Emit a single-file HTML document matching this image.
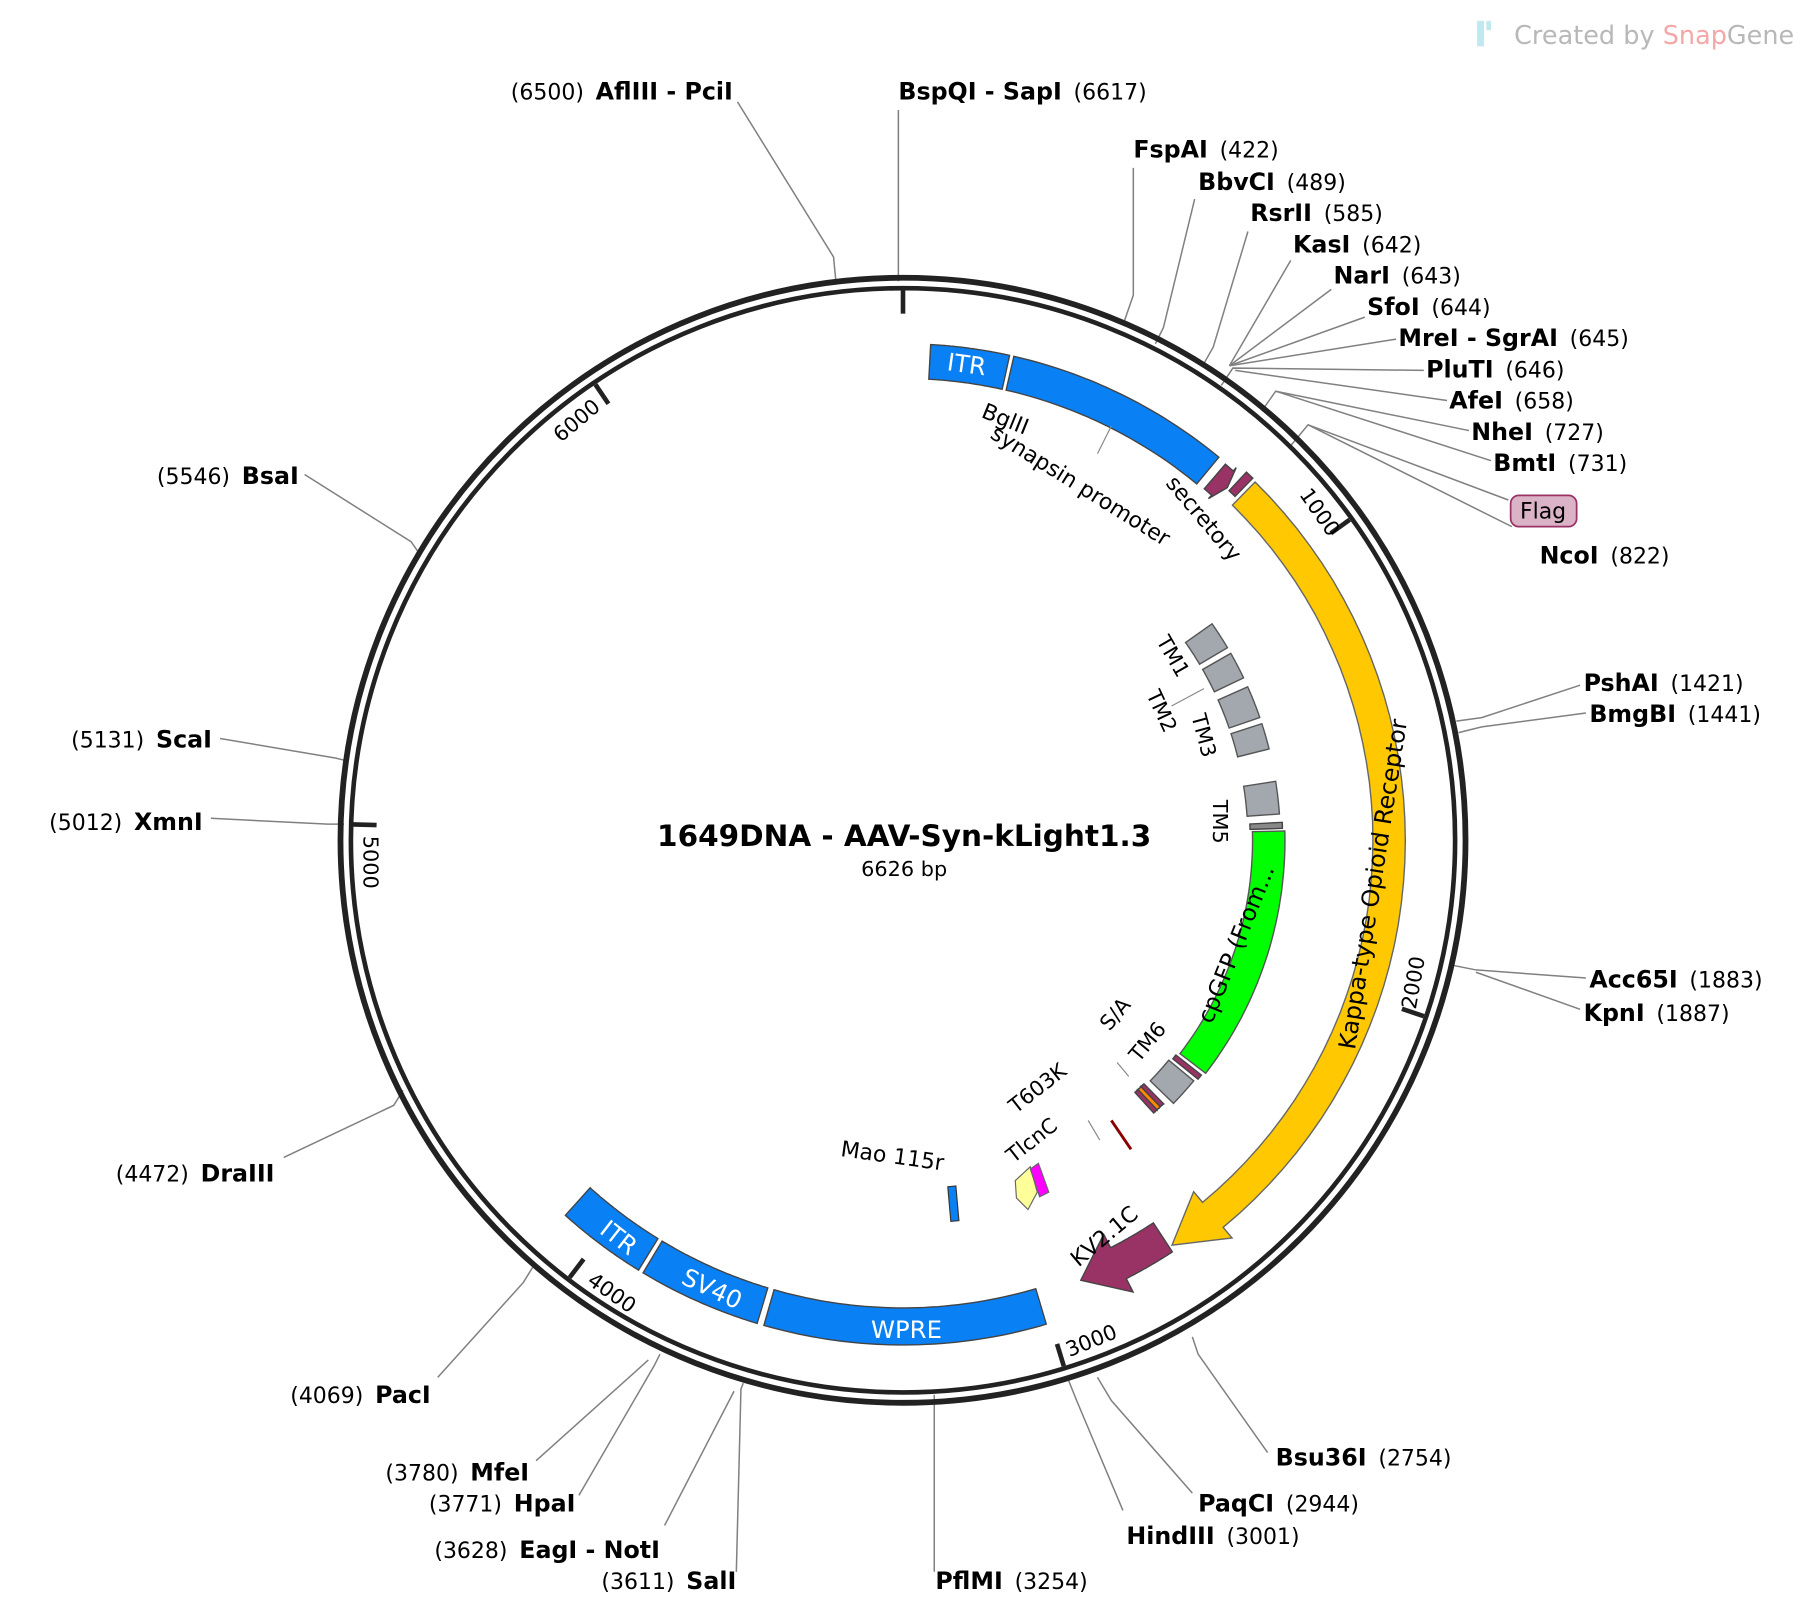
<!DOCTYPE html>
<html><head><meta charset="utf-8">
<style>
html,body{margin:0;padding:0;background:#fff;}
svg{display:block;}
text{font-family:"DejaVu Sans","Liberation Sans",sans-serif;}
.b{font-weight:bold;font-size:20.5px;}
.n{font-size:19px;}
</style></head>
<body>
<svg id="s" width="1806" height="1610" viewBox="0 0 1560 1391" xmlns="http://www.w3.org/2000/svg">
<rect width="1560" height="1391" fill="#fff"/>
<g id="lines" stroke="#808080" stroke-width="1.3" fill="none"></g>
<circle cx="780" cy="726" r="486" fill="none" stroke="#222" stroke-width="5"/>
<circle cx="780" cy="726" r="477" fill="none" stroke="#222" stroke-width="4"/>
<g id="feat"></g>
<g id="lab"></g>
<rect x="1276" y="18" width="6" height="22" fill="#bfe9ef"/>
<rect x="1284" y="18" width="4" height="8" fill="#bfe9ef"/>
<text x="1308" y="38" font-size="22" fill="#b8b8b8" textLength="242">Created by <tspan fill="#f4a7a7">Snap</tspan>Gene</text>
<text x="781" y="731" text-anchor="middle" font-weight="bold" font-size="25.5">1649DNA - AAV-Syn-kLight1.3</text>
<text x="781" y="757" text-anchor="middle" font-size="18">6626 bp</text>
</svg>
<script>
var NS="http://www.w3.org/2000/svg",cx=780,cy=726;
function P(r,a){a=a*Math.PI/180;return [cx+r*Math.sin(a),cy-r*Math.cos(a)];}
function el(p,t,at,txt){var e=document.createElementNS(NS,t);for(var k in at)e.setAttribute(k,at[k]);if(txt!==undefined)e.innerHTML=txt;document.getElementById(p).appendChild(e);return e;}
function band(a1,a2,r,w,fill,head,hw,stroke){
 var pts=[],n=40,ae=head?a2-head:a2;
 for(var i=0;i<=n;i++){pts.push(P(r+w/2,a1+(ae-a1)*i/n));}
 if(head){pts.push(P(r+hw/2,ae));pts.push(P(r,a2));pts.push(P(r-hw/2,ae));}
 for(var i=n;i>=0;i--){pts.push(P(r-w/2,a1+(ae-a1)*i/n));}
 el("feat","polygon",{points:pts.map(function(p){return p[0].toFixed(1)+","+p[1].toFixed(1)}).join(" "),fill:fill,stroke:stroke||"#444","stroke-width":1.2});
}
var BL="#0a80f5";
band(3.2,12.4,414,30,BL);
band(12.9,39.5,414,30,BL);
band(40.6,42.6,414,28,"#993366",0.8,36);
band(43,44,424,22,"#993366");
band(44.5,146.4,420,28,"#ffc800",6,52,"#666");
band(146.8,158,410,30,"#993366",5,56);
band(163.5,196,420,32,BL);
band(196.8,211,420,32,BL);
band(211.6,222,420,32,BL);
[[55,59.3],[60.3,64.5],[66,71],[72,76],[81,86]].forEach(function(a){band(a[0],a[1],312,28,"#a3a8ae","", "", "#555");});
band(87.3,88.2,314,28,"#888");
band(88.6,127.6,316,28,"#00ff00","", "", "#555");
band(128.2,129,314,28,"#993366");
band(129.6,134.2,312,28,"#a3a8ae","","","#555");
band(135.3,136,308,24,"#993366");band(136,136.7,308,24,"#ff8800");band(136.7,137.4,308,24,"#993366");
[0,1000,2000,3000,4000,5000,6000].forEach(function(p){var a=p/6626*360,q1=P(475,a),q2=P(455,a);
 el("feat","line",{x1:q1[0],y1:q1[1],x2:q2[0],y2:q2[1],stroke:"#222","stroke-width":4});});
function T(x,y,s,rot,txt,fill,anch){el("lab","text",{x:x,y:y,"font-size":s,fill:fill||"#000","text-anchor":anch||"middle",transform:"rotate("+rot+" "+x+" "+y+")"},txt);}
T(1135,446,18,55,"1000");
T(1227,850,18,-80,"2000");
T(945,1164,18,-22,"3000");
T(525,1122,18,35,"4000");
T(314,745,18,90,"5000");
T(502,368,18,-40,"6000");
el("feat","line",{x1:960,y1:968,x2:977,y2:993,stroke:"#8b0000","stroke-width":2.5});
el("feat","polygon",{points:"877,1020 890,1008 896,1030 888,1045 878,1035",fill:"#ffff99",stroke:"#666"});
el("feat","polygon",{points:"890,1010 897,1005 906,1030 898,1034",fill:"#ff00ff",stroke:"#666"});
el("feat","rect",{x:820,y:1025,width:7,height:30,fill:BL,stroke:"#333",transform:"rotate(-5 823 1040)"});
el("feat","line",{x1:950,y1:985,x2:940,y2:968,stroke:"#888"});
T(834,322,21,8,"ITR","#fff");
T(530,1075,21,38,"ITR","#fff");
T(612,1120,21,25,"SV40","#fff");
T(783,1156,21,0,"WPRE","#fff");
T(1193,765,20.5,-81,"Kappa-type Opioid Receptor");
T(1074,818,20,-68,"cpGFP (From...");
T(866,368,19,22,"BglII");
T(930,425,19,32,"synapsin promoter");
T(1035,452,19,50,"secretory");
T(1008,570,18,60,"TM1");
T(998,617,18,65,"TM2");
T(1034,637,18,75,"TM3");
T(1048,710,18,90,"TM5");
T(968,880,18,-50,"S/A");
T(996,904,18,-50,"TM6");
T(900,945,18,-38,"T603K");
T(895,990,18,-38,"TlcnC");
T(770,1005,19,8,"Mao 115r");
T(958,1073,19,-40,"KV2.1C");
el("feat","line",{x1:1012,y1:610,x2:1040,y2:595,stroke:"#888"});
el("feat","line",{x1:948,y1:392,x2:960,y2:368,stroke:"#888"});
el("feat","line",{x1:975,y1:930,x2:965,y2:918,stroke:"#888"});
var S=[
[633,86,"end","AflIII - PciI","(6500)",1,"637,88 720,222 722,243"],
[776,86,"start","BspQI - SapI","(6617)",0,"776,95 776,243"],
[979,136,"start","FspAI","(422)",0,"979,145 979,255 970,281"],
[1035,164,"start","BbvCI","(489)",0,"1032,172 1005,283 998,297"],
[1080,191,"start","RsrII","(585)",0,"1078,200 1048,300 1040,314"],
[1117,218,"start","KasI","(642)",0,"1115,225 1062,316"],
[1152,245,"start","NarI","(643)",0,"1150,250 1062,316"],
[1181,272,"start","SfoI","(644)",0,"1179,274 1062,316"],
[1208,299,"start","MreI - SgrAI","(645)",0,"1206,293 1062,316"],
[1232,326,"start","PluTI","(646)",0,"1230,320 1065,318 1055,333"],
[1252,353,"start","AfeI","(658)",0,"1250,346 1067,320"],
[1271,380,"start","NheI","(727)",0,"1269,372 1102,338 1090,355"],
[1290,407,"start","BmtI","(731)",0,"1288,398 1102,338"],
[1330,487,"start","NcoI","(822)",0,"1306,455 1130,367 1115,385"],
[1368,597,"start","PshAI","(1421)",0,"1365,592 1280,620 1258,623"],
[1373,624,"start","BmgBI","(1441)",0,"1370,616 1280,628 1260,633"],
[1373,853,"start","Acc65I","(1883)",0,"1370,845 1275,838 1255,834"],
[1368,882,"start","KpnI","(1887)",0,"1365,872 1275,840"],
[1102,1266,"start","Bsu36I","(2754)",0,"1095,1255 1035,1170 1030,1155"],
[1035,1306,"start","PaqCI","(2944)",0,"1030,1290 960,1210 948,1190"],
[973,1334,"start","HindIII","(3001)",0,"970,1305 930,1210 922,1190"],
[808,1373,"start","PflMI","(3254)",0,"807,1358 807,1205"],
[636,1373,"end","SalI","(3611)",1,"636,1358 640,1200 642,1195"],
[570,1346,"end","EagI - NotI","(3628)",1,"574,1318 634,1202"],
[497,1306,"end","HpaI","(3771)",1,"500,1292 565,1180 570,1170"],
[457,1279,"end","MfeI","(3780)",1,"463,1262 560,1175"],
[372,1212,"end","PacI","(4069)",1,"378,1190 452,1108 460,1095"],
[237,1021,"end","DraIII","(4472)",1,"245,1000 340,955 348,942"],
[175,717,"end","XmnI","(5012)",1,"182,707 283,712 297,712"],
[183,646,"end","ScaI","(5131)",1,"190,638 290,655 298,657"],
[258,418,"end","BsaI","(5546)",1,"263,410 355,468 362,478"]
];
S.forEach(function(s){
 el("lines","polyline",{points:s[6]});
 var h=s[5]?'<tspan class="n">'+s[4]+'</tspan>  <tspan class="b">'+s[3]+'</tspan>':'<tspan class="b">'+s[3]+'</tspan>  <tspan class="n">'+s[4]+'</tspan>';
 var t=el("lab","text",{x:s[0],y:s[1],"text-anchor":s[2]},h);
 t.setAttributeNS("http://www.w3.org/XML/1998/namespace","xml:space","preserve");
});
el("lines","polyline",{points:"1303,432 1130,367"});
el("lab","rect",{x:1305,y:428,width:57,height:27,rx:7,fill:"#dbb3c6",stroke:"#993366","stroke-width":1.5});
el("lab","text",{x:1333,y:448,"font-size":19,"text-anchor":"middle"},"Flag");
</script>
</body></html>
